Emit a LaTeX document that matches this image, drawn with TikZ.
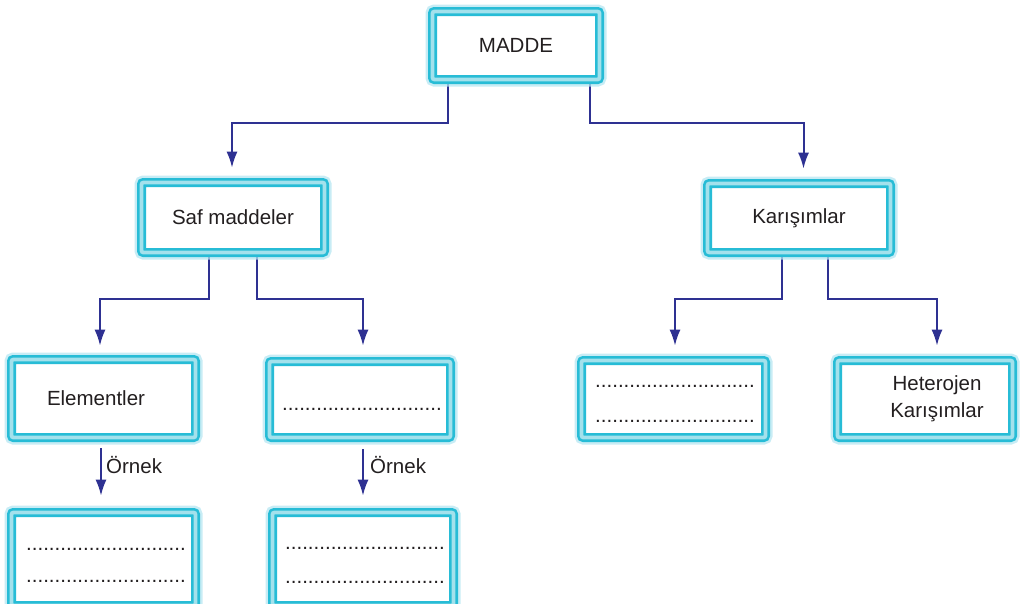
\documentclass[tikz,border=0pt]{standalone}
\usepackage{fontspec}
\setmainfont{Liberation Sans}
\usetikzlibrary{arrows.meta}
\definecolor{boxcyan}{HTML}{27BCD6}
\definecolor{bandcyan}{HTML}{A3E1EC}
\definecolor{glowcyan}{HTML}{B5E6F1}
\definecolor{arrowblue}{HTML}{2E3192}
\definecolor{txt}{HTML}{231F20}
\pgfdeclarelayer{background}
\pgfsetlayers{background,main}
\newcommand\dotline{............................}
\begin{document}
\begin{tikzpicture}[x=1pt,y=-1pt,
  box/.style={draw=boxcyan, line width=2.6pt, double=bandcyan, double distance=3.8pt,
    rounded corners=2pt, fill=white, inner sep=0pt, text=txt,
    preaction={draw=glowcyan, line width=14pt, opacity=0.75},
    font=\fontsize{20.5}{25}\selectfont},
  lbl/.style={inner sep=0pt, text=txt, font=\fontsize{20.5}{27}\selectfont},
  arr/.style={draw=arrowblue, line width=2pt, -{Latex[length=16pt,width=11pt]}}]
\useasboundingbox (0,0) rectangle (1020,603);
\clip (0,0) rectangle (1020,603);
% boxes
\node[box, minimum width=167pt, minimum height=68pt] (madde) at (516,45.5) {MADDE};
\node[box, minimum width=183pt, minimum height=70pt] (saf) at (233,217.5) {Saf maddeler};
\node[box, minimum width=183pt, minimum height=69pt] (kar) at (799,218) {Karışımlar};
\node[box, minimum width=184pt, minimum height=78pt] (elem) at (103.5,398.5) {};
\node[box, minimum width=181pt, minimum height=76pt] (dot1) at (360,399.5) {};
\node[box, minimum width=184pt, minimum height=77pt] (dotR) at (673.5,399) {};
\node[box, minimum width=175pt, minimum height=77pt] (het) at (925,399) {};
\node[box, minimum width=184pt, minimum height=93pt] (bot1) at (103.5,559) {};
\node[box, minimum width=181pt, minimum height=93pt] (bot2) at (363,559) {};
% texts
\node[lbl] (tElem) at (96,398.5) {Elementler};
\node[lbl, align=center] (tHet) at (937,399) {Heterojen\\Karışımlar};
\node[lbl, anchor=base west] (d1) at (282,410) {\dotline};
\node[lbl, anchor=base west] (dR1) at (595,387) {\dotline};
\node[lbl, anchor=base west] (dR2) at (595,422) {\dotline};
\node[lbl, anchor=base west] (b11) at (26,550) {\dotline};
\node[lbl, anchor=base west] (b12) at (26,582) {\dotline};
\node[lbl, anchor=base west] (b21) at (285,549) {\dotline};
\node[lbl, anchor=base west] (b22) at (285,583) {\dotline};
\node[lbl, anchor=base west] (o1) at (106,473) {Örnek};
\node[lbl, anchor=base west] (o2) at (370,473) {Örnek};
% connectors
\begin{pgfonlayer}{background}
\draw[arr, shorten >=13.5pt] ([xshift=-68pt]madde.south) -- ++(0,42.5) -| ([xshift=-1pt]saf.north);
\draw[arr, shorten >=13.5pt] ([xshift=74pt]madde.south) -- ++(0,42.5) -| ([xshift=4.5pt]kar.north);
\draw[arr, shorten >=12.5pt] ([xshift=-24pt]saf.south) -- ++(0,45.5) -| ([xshift=-3.5pt]elem.north);
\draw[arr, shorten >=14.5pt] ([xshift=24pt]saf.south) -- ++(0,45.5) -| ([xshift=3pt]dot1.north);
\draw[arr, shorten >=13.5pt] ([xshift=-17pt]kar.south) -- ++(0,45.5) -| ([xshift=1.5pt]dotR.north);
\draw[arr, shorten >=13.5pt] ([xshift=29pt]kar.south) -- ++(0,45.5) -| ([xshift=12pt]het.north);
\draw[arr, shorten <=9.5pt, shorten >=15.5pt] ([xshift=-2.5pt]elem.south) -- ([xshift=-2.5pt]bot1.north);
\draw[arr, shorten <=10.5pt, shorten >=15.5pt] ([xshift=3pt]dot1.south) -- (bot2.north);
\end{pgfonlayer}
\end{tikzpicture}
\end{document}
